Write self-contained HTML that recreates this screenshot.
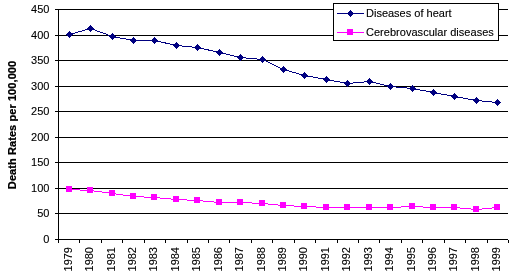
<!DOCTYPE html>
<html><head><meta charset="utf-8"><style>html,body{margin:0;padding:0;background:#fff;width:517px;height:276px;overflow:hidden;position:relative}</style></head>
<body><svg width="517" height="276" viewBox="0 0 517 276" style="position:absolute;left:0;top:0"><defs><filter id="gs" x="-5%" y="-5%" width="110%" height="110%" color-interpolation-filters="sRGB"><feComponentTransfer><feFuncA type="gamma" exponent="0.8"/></feComponentTransfer></filter><filter id="gb" x="-5%" y="-5%" width="110%" height="110%" color-interpolation-filters="sRGB"><feComponentTransfer><feFuncA type="gamma" exponent="0.55"/></feComponentTransfer></filter></defs><g fill="#000" shape-rendering="crispEdges"><rect x="55" y="9" width="453" height="1"/><rect x="55" y="35" width="453" height="1"/><rect x="55" y="60" width="453" height="1"/><rect x="55" y="86" width="453" height="1"/><rect x="55" y="111" width="453" height="1"/><rect x="55" y="137" width="453" height="1"/><rect x="55" y="162" width="453" height="1"/><rect x="55" y="188" width="453" height="1"/><rect x="55" y="213" width="453" height="1"/><rect x="55" y="239" width="453" height="1"/><rect x="58" y="9" width="1" height="234"/><rect x="79" y="240" width="1" height="3"/><rect x="101" y="240" width="1" height="3"/><rect x="122" y="240" width="1" height="3"/><rect x="144" y="240" width="1" height="3"/><rect x="165" y="240" width="1" height="3"/><rect x="187" y="240" width="1" height="3"/><rect x="208" y="240" width="1" height="3"/><rect x="229" y="240" width="1" height="3"/><rect x="251" y="240" width="1" height="3"/><rect x="272" y="240" width="1" height="3"/><rect x="294" y="240" width="1" height="3"/><rect x="315" y="240" width="1" height="3"/><rect x="337" y="240" width="1" height="3"/><rect x="358" y="240" width="1" height="3"/><rect x="379" y="240" width="1" height="3"/><rect x="401" y="240" width="1" height="3"/><rect x="422" y="240" width="1" height="3"/><rect x="444" y="240" width="1" height="3"/><rect x="465" y="240" width="1" height="3"/><rect x="487" y="240" width="1" height="3"/><rect x="508" y="240" width="1" height="3"/></g><g font-family="Liberation Sans" font-size="11" fill="#000" filter="url(#gs)"><text x="49.4" y="13" text-anchor="end">450</text><text x="49.4" y="39" text-anchor="end">400</text><text x="49.4" y="64" text-anchor="end">350</text><text x="49.4" y="90" text-anchor="end">300</text><text x="49.4" y="115" text-anchor="end">250</text><text x="49.4" y="141" text-anchor="end">200</text><text x="49.4" y="166" text-anchor="end">150</text><text x="49.4" y="192" text-anchor="end">100</text><text x="49.4" y="217" text-anchor="end">50</text><text x="49.4" y="243" text-anchor="end">0</text><text transform="translate(72,247) rotate(-90)" text-anchor="end">1979</text><text transform="translate(93,247) rotate(-90)" text-anchor="end">1980</text><text transform="translate(115,247) rotate(-90)" text-anchor="end">1981</text><text transform="translate(136,247) rotate(-90)" text-anchor="end">1982</text><text transform="translate(157,247) rotate(-90)" text-anchor="end">1983</text><text transform="translate(179,247) rotate(-90)" text-anchor="end">1984</text><text transform="translate(200,247) rotate(-90)" text-anchor="end">1985</text><text transform="translate(222,247) rotate(-90)" text-anchor="end">1986</text><text transform="translate(243,247) rotate(-90)" text-anchor="end">1987</text><text transform="translate(265,247) rotate(-90)" text-anchor="end">1988</text><text transform="translate(286,247) rotate(-90)" text-anchor="end">1989</text><text transform="translate(307,247) rotate(-90)" text-anchor="end">1990</text><text transform="translate(329,247) rotate(-90)" text-anchor="end">1991</text><text transform="translate(350,247) rotate(-90)" text-anchor="end">1992</text><text transform="translate(372,247) rotate(-90)" text-anchor="end">1993</text><text transform="translate(393,247) rotate(-90)" text-anchor="end">1994</text><text transform="translate(415,247) rotate(-90)" text-anchor="end">1995</text><text transform="translate(436,247) rotate(-90)" text-anchor="end">1996</text><text transform="translate(457,247) rotate(-90)" text-anchor="end">1997</text><text transform="translate(479,247) rotate(-90)" text-anchor="end">1998</text><text transform="translate(500,247) rotate(-90)" text-anchor="end">1999</text></g><text transform="translate(16,125) rotate(-90)" text-anchor="middle" textLength="128.3" lengthAdjust="spacing" font-family="Liberation Sans" font-weight="bold" font-size="11" filter="url(#gb)">Death Rates per 100,000</text><polyline points="69.5,189.5 90.5,190.5 112.5,193.5 133.5,196.5 154.5,197.5 176.5,199.5 197.5,200.5 219.5,202.5 240.5,202.5 262.5,203.5 283.5,205.5 304.5,206.5 326.5,207.5 347.5,207.5 369.5,207.5 390.5,207.5 412.5,206.5 433.5,207.5 454.5,207.5 476.5,209.5 497.5,207.5" fill="none" stroke="#FF00FF" stroke-width="1" shape-rendering="crispEdges"/><polyline points="69.5,34.5 90.5,28.5 112.5,36.5 133.5,40.5 154.5,40.5 176.5,45.5 197.5,47.5 219.5,52.5 240.5,57.5 262.5,59.5 283.5,69.5 304.5,75.5 326.5,79.5 347.5,83.5 369.5,81.5 390.5,86.5 412.5,88.5 433.5,92.5 454.5,96.5 476.5,100.5 497.5,102.5" fill="none" stroke="#000080" stroke-width="1" shape-rendering="crispEdges"/><g fill="#FF00FF" shape-rendering="crispEdges"><rect x="66" y="186" width="6" height="6"/><rect x="87" y="187" width="6" height="6"/><rect x="109" y="190" width="6" height="6"/><rect x="130" y="193" width="6" height="6"/><rect x="151" y="194" width="6" height="6"/><rect x="173" y="196" width="6" height="6"/><rect x="194" y="197" width="6" height="6"/><rect x="216" y="199" width="6" height="6"/><rect x="237" y="199" width="6" height="6"/><rect x="259" y="200" width="6" height="6"/><rect x="280" y="202" width="6" height="6"/><rect x="301" y="203" width="6" height="6"/><rect x="323" y="204" width="6" height="6"/><rect x="344" y="204" width="6" height="6"/><rect x="366" y="204" width="6" height="6"/><rect x="387" y="204" width="6" height="6"/><rect x="409" y="203" width="6" height="6"/><rect x="430" y="204" width="6" height="6"/><rect x="451" y="204" width="6" height="6"/><rect x="473" y="206" width="6" height="6"/><rect x="494" y="204" width="6" height="6"/></g><g fill="#000080" shape-rendering="crispEdges"><rect x="66" y="34" width="7" height="1"/><rect x="67" y="33" width="5" height="3"/><rect x="68" y="32" width="3" height="5"/><rect x="69" y="31" width="1" height="7"/><rect x="87" y="28" width="7" height="1"/><rect x="88" y="27" width="5" height="3"/><rect x="89" y="26" width="3" height="5"/><rect x="90" y="25" width="1" height="7"/><rect x="109" y="36" width="7" height="1"/><rect x="110" y="35" width="5" height="3"/><rect x="111" y="34" width="3" height="5"/><rect x="112" y="33" width="1" height="7"/><rect x="130" y="40" width="7" height="1"/><rect x="131" y="39" width="5" height="3"/><rect x="132" y="38" width="3" height="5"/><rect x="133" y="37" width="1" height="7"/><rect x="151" y="40" width="7" height="1"/><rect x="152" y="39" width="5" height="3"/><rect x="153" y="38" width="3" height="5"/><rect x="154" y="37" width="1" height="7"/><rect x="173" y="45" width="7" height="1"/><rect x="174" y="44" width="5" height="3"/><rect x="175" y="43" width="3" height="5"/><rect x="176" y="42" width="1" height="7"/><rect x="194" y="47" width="7" height="1"/><rect x="195" y="46" width="5" height="3"/><rect x="196" y="45" width="3" height="5"/><rect x="197" y="44" width="1" height="7"/><rect x="216" y="52" width="7" height="1"/><rect x="217" y="51" width="5" height="3"/><rect x="218" y="50" width="3" height="5"/><rect x="219" y="49" width="1" height="7"/><rect x="237" y="57" width="7" height="1"/><rect x="238" y="56" width="5" height="3"/><rect x="239" y="55" width="3" height="5"/><rect x="240" y="54" width="1" height="7"/><rect x="259" y="59" width="7" height="1"/><rect x="260" y="58" width="5" height="3"/><rect x="261" y="57" width="3" height="5"/><rect x="262" y="56" width="1" height="7"/><rect x="280" y="69" width="7" height="1"/><rect x="281" y="68" width="5" height="3"/><rect x="282" y="67" width="3" height="5"/><rect x="283" y="66" width="1" height="7"/><rect x="301" y="75" width="7" height="1"/><rect x="302" y="74" width="5" height="3"/><rect x="303" y="73" width="3" height="5"/><rect x="304" y="72" width="1" height="7"/><rect x="323" y="79" width="7" height="1"/><rect x="324" y="78" width="5" height="3"/><rect x="325" y="77" width="3" height="5"/><rect x="326" y="76" width="1" height="7"/><rect x="344" y="83" width="7" height="1"/><rect x="345" y="82" width="5" height="3"/><rect x="346" y="81" width="3" height="5"/><rect x="347" y="80" width="1" height="7"/><rect x="366" y="81" width="7" height="1"/><rect x="367" y="80" width="5" height="3"/><rect x="368" y="79" width="3" height="5"/><rect x="369" y="78" width="1" height="7"/><rect x="387" y="86" width="7" height="1"/><rect x="388" y="85" width="5" height="3"/><rect x="389" y="84" width="3" height="5"/><rect x="390" y="83" width="1" height="7"/><rect x="409" y="88" width="7" height="1"/><rect x="410" y="87" width="5" height="3"/><rect x="411" y="86" width="3" height="5"/><rect x="412" y="85" width="1" height="7"/><rect x="430" y="92" width="7" height="1"/><rect x="431" y="91" width="5" height="3"/><rect x="432" y="90" width="3" height="5"/><rect x="433" y="89" width="1" height="7"/><rect x="451" y="96" width="7" height="1"/><rect x="452" y="95" width="5" height="3"/><rect x="453" y="94" width="3" height="5"/><rect x="454" y="93" width="1" height="7"/><rect x="473" y="100" width="7" height="1"/><rect x="474" y="99" width="5" height="3"/><rect x="475" y="98" width="3" height="5"/><rect x="476" y="97" width="1" height="7"/><rect x="494" y="102" width="7" height="1"/><rect x="495" y="101" width="5" height="3"/><rect x="496" y="100" width="3" height="5"/><rect x="497" y="99" width="1" height="7"/></g><rect x="333.5" y="3.5" width="165" height="37" fill="#fff" stroke="#000" stroke-width="1" shape-rendering="crispEdges"/><g shape-rendering="crispEdges"><rect x="337" y="13" width="27" height="1" fill="#000080"/><g fill="#000080"><rect x="347" y="13" width="7" height="1"/><rect x="348" y="12" width="5" height="3"/><rect x="349" y="11" width="3" height="5"/><rect x="350" y="10" width="1" height="7"/></g><rect x="337" y="32" width="27" height="1" fill="#FF00FF"/><g fill="#FF00FF"><rect x="347" y="29" width="6" height="6"/></g></g><g font-family="Liberation Sans" font-size="11" fill="#000" filter="url(#gs)"><text x="366" y="17">Diseases of heart</text><text x="366" y="36" textLength="127.8" lengthAdjust="spacing">Cerebrovascular diseases</text></g></svg></body></html>
